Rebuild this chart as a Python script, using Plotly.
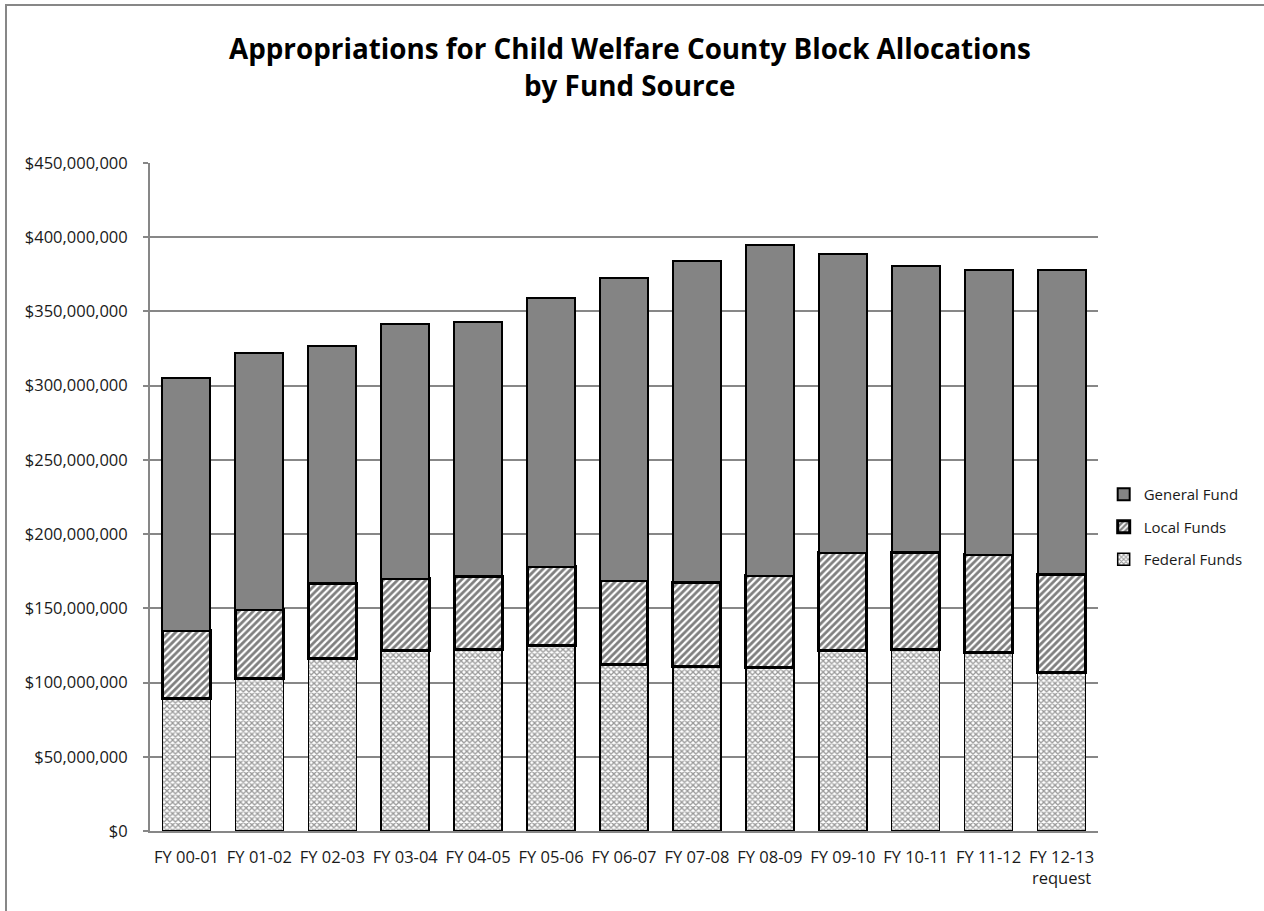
import plotly.graph_objects as go

categories = ["FY 00-01", "FY 01-02", "FY 02-03", "FY 03-04", "FY 04-05", "FY 05-06",
              "FY 06-07", "FY 07-08", "FY 08-09", "FY 09-10", "FY 10-11", "FY 11-12",
              "FY 12-13<br>request"]
federal_funds = [89.5e6, 102.5e6, 116.5e6, 121.5e6, 122.5e6, 125.0e6, 112.3e6,
                 110.7e6, 110.0e6, 121.3e6, 122.4e6, 120.2e6, 107.0e6]
local_funds = [45.5e6, 46.5e6, 50.5e6, 48.5e6, 49.0e6, 53.0e6, 56.3e6,
               57.0e6, 62.0e6, 66.2e6, 65.4e6, 65.8e6, 66.0e6]
general_fund = [170.5e6, 173.0e6, 159.7e6, 171.4e6, 171.1e6, 181.0e6, 203.6e6,
                216.5e6, 222.7e6, 201.3e6, 192.7e6, 192.2e6, 205.2e6]
y_ticks = [0, 50e6, 100e6, 150e6, 200e6, 250e6, 300e6, 350e6, 400e6, 450e6]
y_tick_labels = ["$0", "$50,000,000", "$100,000,000", "$150,000,000", "$200,000,000",
                 "$250,000,000", "$300,000,000", "$350,000,000", "$400,000,000",
                 "$450,000,000"]

FONT = "Open Sans"
GRID = "#878787"
TXT = 16.5

fig = go.Figure()
fig.add_trace(go.Bar(
    name="Federal Funds", x=categories, y=federal_funds, legendgroup="f", legendrank=3,
    marker=dict(color="white", line=dict(color="black", width=1.5),
                pattern=dict(shape="x", fgcolor="#333333", bgcolor="white",
                             size=4, solidity=0.55)),
))
fig.add_trace(go.Bar(
    name="Local Funds", x=categories, y=local_funds, legendgroup="l", legendrank=2,
    marker=dict(color="white", line=dict(color="black", width=3),
                pattern=dict(shape="/", fgcolor="black", bgcolor="white",
                             size=5, solidity=0.55)),
))
fig.add_trace(go.Bar(
    name="General Fund", x=categories, y=general_fund, legendgroup="g", legendrank=1,
    marker=dict(color="#848484", line=dict(color="black", width=2)),
))

fig.update_layout(
    width=1264, height=911,
    barmode="stack", bargap=0.342,
    paper_bgcolor="white", plot_bgcolor="white",
    margin=dict(l=150, r=166, t=163, b=80, autoexpand=False),
    font=dict(family=FONT, size=TXT, color="#1a1a1a"),
    showlegend=True,
    legend=dict(x=1.006, y=0.455, xanchor="left", yanchor="middle",
                traceorder="grouped", tracegroupgap=10,
                font=dict(family=FONT, size=15, color="#1a1a1a"),
                itemwidth=30,
                bgcolor="rgba(0,0,0,0)"),
    xaxis=dict(showgrid=False, showline=True, linecolor=GRID, linewidth=2,
               ticks="", tickfont=dict(size=TXT), ticklabelstandoff=10),
    yaxis=dict(range=[0, 450e6], tickvals=y_ticks, ticktext=y_tick_labels,
               showgrid=True, gridcolor=GRID, gridwidth=2,
               showline=True, linecolor=GRID, linewidth=2,
               ticks="outside", ticklen=5, tickcolor=GRID, tickwidth=2,
               tickfont=dict(size=TXT), ticklabelstandoff=12, zeroline=False),
    annotations=[
        dict(text="<b>Appropriations for Child Welfare County Block Allocations</b>",
             x=0.506, y=1.0, xref="paper", yref="paper", yshift=115,
             xanchor="center", yanchor="middle", showarrow=False,
             font=dict(family=FONT, size=27.8, color="black")),
        dict(text="<b>by Fund Source</b>",
             x=0.506, y=1.0, xref="paper", yref="paper", yshift=78,
             xanchor="center", yanchor="middle", showarrow=False,
             font=dict(family=FONT, size=27.8, color="black")),
    ],
    shapes=[dict(type="rect", xref="paper", yref="paper",
                 x0=-0.1519, y0=-0.2, x1=1.5, y1=1.2365,
                 line=dict(color=GRID, width=2), fillcolor="rgba(0,0,0,0)",
                 layer="below")],
)

fig.write_html("out.html")
